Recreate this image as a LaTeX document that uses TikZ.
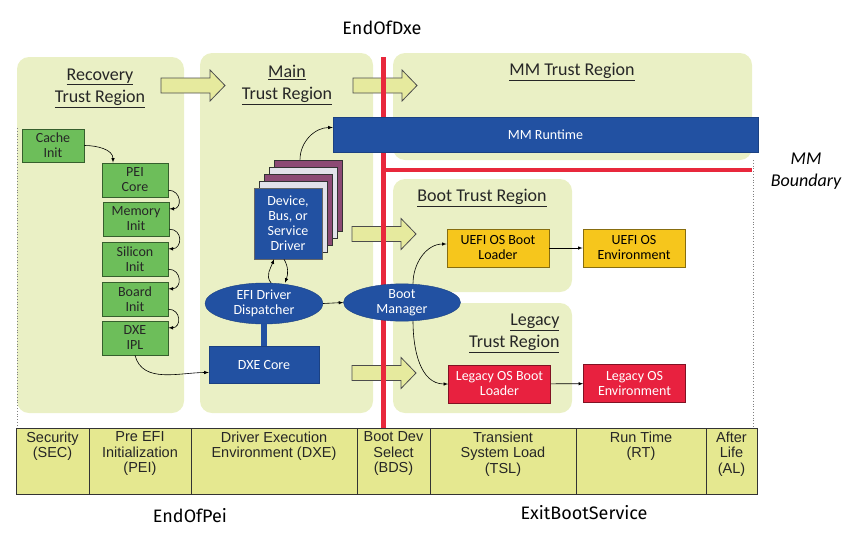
\documentclass[tikz,border=0pt]{standalone}
\usepackage{fontspec}
\setmainfont{Carlito}
\newfontfamily\phasefont{Liberation Sans}
\newfontfamily\eventfont{Fira Sans}
\usepackage{tikz}
\usetikzlibrary{positioning}
\usetikzlibrary{calc,arrows,shapes.geometric}

\definecolor{regionfill}{HTML}{EAF0C5}
\definecolor{arrowfill}{HTML}{E6EA9E}
\definecolor{phasefill}{HTML}{E5E890}
\definecolor{peigreen}{HTML}{6DBE5A}
\definecolor{efiblue}{HTML}{2251A2}
\definecolor{loaderyellow}{HTML}{F6C61C}
\definecolor{legacyred}{HTML}{E8213F}
\definecolor{drvpurple}{HTML}{8C4A74}
\definecolor{drvgray}{HTML}{E2E2EA}
\definecolor{mmred}{HTML}{E8283C}

\begin{document}
\begin{tikzpicture}
	[   x=1pt,y=-1pt,
		region/.style={fill=regionfill,rounded corners=12pt},
		title/.style={font=\fontsize{18}{22}\selectfont,align=center,text=black!85},
		greenbox/.style={draw=peigreen!50!black,fill=peigreen,line width=0.8pt,inner sep=0pt,align=center,
			minimum width=66,minimum height=34,font=\fontsize{14}{15}\selectfont,text=black!85},
		bluebox/.style={fill=efiblue,draw=efiblue!80!black,inner sep=0pt,align=center,text=white,font=\fontsize{14}{15}\selectfont},
		blueoval/.style={bluebox,ellipse},
		osbox/.style={draw=#1!55!black,fill=#1,line width=0.8pt,inner sep=0pt,align=center,
			minimum width=102,minimum height=38,font=\fontsize{14}{15}\selectfont},
		drvlayer/.style={fill=#1,draw=black!80,line width=0.6pt,minimum width=68,minimum height=71},
		phase/.style={draw=black!80,fill=phasefill,line width=0.8pt,minimum height=66,inner sep=0pt},
		phasetext/.style={align=center,inner sep=1pt,font=\phasefont\fontsize{14.5}{15.5}\selectfont,text=black!85},
		event/.style={font=\eventfont\fontsize{18}{22}\selectfont},
	]
	\tikzset{normal arrow/.style={draw,line width=0.6pt,-latex}}
	\tikzset{stage arrow/.pic={\draw[fill=arrowfill,draw=black!70,line width=0.8pt]
		(0,-7.5) -- (49,-7.5) -- (49,-15.5) -- (64,0) -- (49,15.5) -- (49,7.5) -- (0,7.5) -- cycle;}}
	\useasboundingbox (0,0) rectangle (858,541);
	
	\fill[region] (17,57) rectangle (184,413);
	\fill[region] (200,53) rectangle (373,413);
	\fill[region] (393,53) rectangle (752,160);
	\fill[region] (393,179) rectangle (572,292);
	\fill[region] (393,303) rectangle (572,413);
	\draw[dotted,gray,line width=0.8pt] (17,128) -- (17,428);
	\draw[dotted,gray,line width=0.8pt] (753,160) -- (753,428);
	
	\node[title] (t-rec) at (100,88) {\underline{Recovery}\\\underline{Trust Region}};
	\node[title] (t-main) at (287,85) {\underline{Main}\\\underline{Trust Region}};
	\node[title] (t-mm) at (572,72) {\underline{MM Trust Region}};
	\node[title] (t-boot) at (482,198) {\underline{Boot Trust Region}};
	\node[title,align=right,anchor=east] (t-leg) at (563,333) {\underline{Legacy}\\\underline{Trust Region}};
	
	\foreach \x/\y in {161/85.5,353/85.5,352/234,352/373}
		\pic at (\x,\y) {stage arrow};
	
	\draw[mmred,line width=5pt] (383,57) -- (383,428);
	\draw[mmred,line width=4pt] (383,170) -- (752,170);
	
	\node[bluebox,minimum width=425,minimum height=35] (mm) at (545.5,134.5) {MM Runtime};
	\node[font=\itshape\fontsize{18}{22}\selectfont,align=center] (mmb) at (806,171) {MM\\Boundary};
	
	% PEI phase
	\node[greenbox,minimum width=62,minimum height=33] (cache) at (53,145.5) {Cache\\Init};
	\node[greenbox] (pei) at (135,180) {PEI\\Core};
	\node[greenbox] (mem) at (136,219) {Memory\\Init};
	\node[greenbox] (sil) at (135,259) {Silicon\\Init};
	\node[greenbox] (brd) at (135,299) {Board\\Init};
	\node[greenbox] (ipl) at (135,338) {DXE\\IPL};
	\path[normal arrow] (cache.east) to[out=0,in=90] ([xshift=-22pt]pei.north);
	\foreach \a/\b in {pei/mem,mem/sil,sil/brd,brd/ipl}
		\path[normal arrow] (\a.-17) to[out=0,in=0,looseness=1.8] (\b.17);
	
	% DXE phase
	\foreach \k/\c in {4/drvpurple,3/drvgray,2/drvpurple,1/drvgray}
		\node[drvlayer=\c] (drv-\k) at ({288+5*\k},{223.5-7*\k}) {};
	\node[bluebox,minimum width=68,minimum height=71,draw=black!60] (drv) at (288,223.5) {Device,\\Bus, or\\Service\\Driver};
	\node[blueoval,minimum width=118,minimum height=41] (disp) at (264,303.5) {EFI Driver\\Dispatcher};
	\node[bluebox,minimum width=110,minimum height=37] (dxe) at (264,364.5) {DXE Core};
	\draw[efiblue,line width=6pt] (disp.south) -- (disp.south |- dxe.north);
	\path[normal arrow] ([xshift=-8pt]drv-4.north) to[out=90,in=180] ([yshift=7pt]mm.west);
	\path[normal arrow] ([xshift=7pt]disp.north) to[out=130,in=250] ([xshift=-14pt]drv.south);
	\path[normal arrow] ([xshift=-4pt]drv.south) to[out=-60,in=70] ([xshift=21pt]disp.north);
	\path[normal arrow] (ipl.south) to[out=-75,in=180] ([yshift=-8pt]dxe.west);
	
	% BDS phase
	\node[blueoval,minimum width=117,minimum height=37] (bm) at (402,302.5) {Boot\\Manager};
	\path[normal arrow] (disp.east) -- (bm.west);
	\node[osbox=loaderyellow] (uefild) at (498,248) {UEFI OS Boot\\Loader};
	\node[osbox=loaderyellow] (uefienv) at (634,248) {UEFI OS\\Environment};
	\node[osbox=legacyred,text=white] (legld) at (499.5,384) {Legacy OS Boot\\Loader};
	\node[osbox=legacyred,text=white] (legenv) at (634.5,383.5) {Legacy OS\\Environment};
	\path[normal arrow] ([xshift=11pt]bm.north) to[out=90,in=180] ([yshift=4pt]uefild.west);
	\path[normal arrow] ([xshift=11pt]bm.south) to[out=-90,in=180] (legld.west);
	\path[normal arrow] (uefild) -- (uefienv);
	\path[normal arrow] (legld) -- (legenv);
	
	% phases
	\foreach \a/\b/\n/\t in {16/89/sec/{Security\\(SEC)},89/191/pei/{Pre EFI\\Initialization\\(PEI)},
		191/357/dxe/{Driver Execution\\Environment (DXE)},357/430/bds/{Boot Dev\\Select\\(BDS)},
		430/576/tsl/{Transient\\System Load\\(TSL)},576/706/rt/{Run Time\\(RT)},706/757/al/{After\\Life\\(AL)}}
	{
		\node[phase,minimum width=\b-\a] (ph-\n) at ({(\a+\b)/2},461) {};
		\node[phasetext,below=3pt of ph-\n.north] (pt-\n) {\t};
	}
	
	\node[event] (eod) at (382,28) {EndOfDxe};
	\node[event] (eop) at (190,516) {EndOfPei};
	\node[event] (ebs) at (584,513) {ExitBootService};
\end{tikzpicture}
\end{document}
